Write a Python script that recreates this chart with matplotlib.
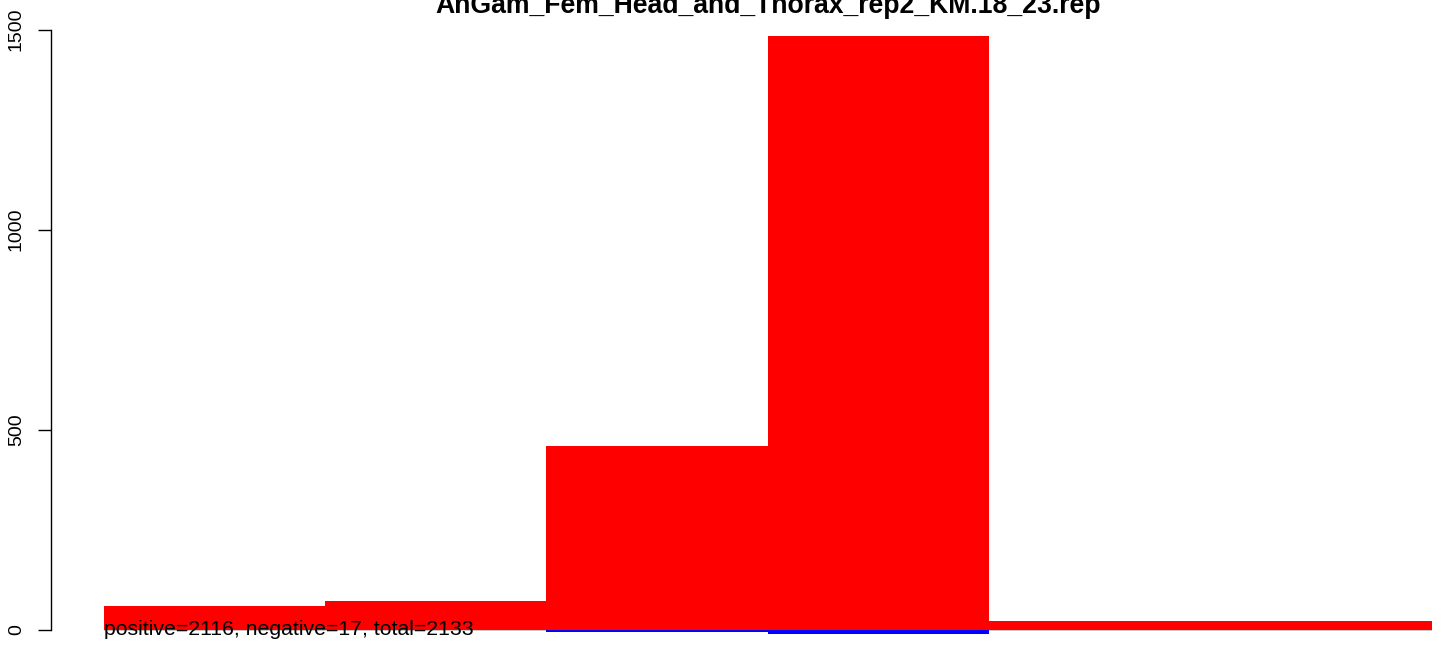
import matplotlib
matplotlib.use("Agg")
import matplotlib.pyplot as plt

title = "AnGam_Fem_Head_and_Thorax_rep2_KM.18_23.rep"
positive = [59, 71, 460, 1484, 21, 21]
negative = [0, 0, -7, -10, 0, 0]
yticks = [0, 500, 1000, 1500]
note = "positive=2116, negative=17, total=2133"

W, H = 1444, 645
fig = plt.figure(figsize=(W / 100, H / 100), dpi=100)
plt.rcParams['font.family'] = ['Liberation Sans', 'DejaVu Sans']

left_px, right_px = 50.5, 1485.0
ax = fig.add_axes([left_px / W, 0, (right_px - left_px) / W, 1])
n = len(positive)
pad = 0.04 * n
ax.set_xlim(-pad, n + pad)
# 0 -> pixel 629.5 ; 1500 -> pixel 29.5 (0.4 px per unit)
ax.set_ylim(-(H - 629.5) / 0.4, 629.5 / 0.4)

xs = list(range(n))
ax.hlines(0, 0, n, color="#BEBEBE", lw=1.2, zorder=1)
ax.bar(xs, positive, width=1.0, align="edge", color="#FF0000", lw=0, zorder=2)
ax.bar(xs, negative, width=1.0, align="edge", color="#0000FF", lw=0, zorder=2)

for s in ["top", "right", "bottom"]:
    ax.spines[s].set_visible(False)
ax.spines["left"].set_bounds(0, 1500)
ax.spines["left"].set_linewidth(1.0)
ax.set_xticks([])
ax.set_yticks(yticks)
ax.set_yticklabels([str(t) for t in yticks], rotation=90, va="center", fontsize=14)
ax.tick_params(axis="y", length=9.5, width=1.0, pad=9)
ax.patch.set_alpha(0)

ax.text(0, 0, note, ha="left", va="center", fontsize=15.3, zorder=3)

fig.text(768 / W, 1 - 13 / H, title, ha="center", va="baseline",
         fontsize=19.2, fontweight="bold")

fig.savefig("out.png", dpi=100)
